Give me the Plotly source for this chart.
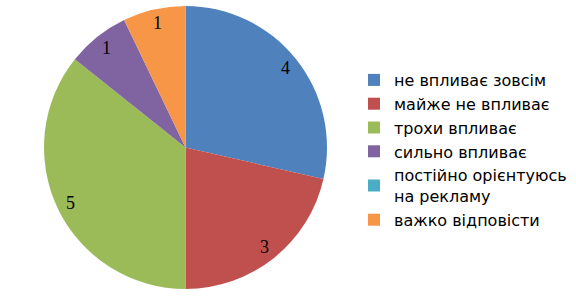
import math
import plotly.graph_objects as go

categories = ["не впливає зовсім", "майже не впливає", "трохи впливає",
              "сильно впливає", "постійно орієнтуюсь<br>на рекламу", "важко відповісти"]
values = [4, 3, 5, 1, 0, 1]
colors = ["#4F81BD", "#C0504D", "#9BBB59", "#8064A2", "#4BACC6", "#F79646"]

W, H = 576, 296
cx, cy, R = 185.5, 147.5, 141.5
label_frac = 0.9

fig = go.Figure(go.Pie(
    labels=categories, values=values, sort=False, direction="clockwise", rotation=0,
    marker=dict(colors=colors, line=dict(width=0)),
    textinfo="none", hoverinfo="label+value",
    domain=dict(x=[(cx - R) / W, (cx + R) / W], y=[1 - (cy + R) / H, 1 - (cy - R) / H]),
))

total = sum(values)
cum = 0
annotations = []
for v in values:
    if v > 0:
        mid = (cum + v / 2) / total * 2 * math.pi
        px = cx + label_frac * R * math.sin(mid)
        py = cy - label_frac * R * math.cos(mid)
        annotations.append(dict(x=px / W, y=1 - py / H, xref="paper", yref="paper",
                                xanchor="center", yanchor="middle",
                                text=str(v), showarrow=False,
                                font=dict(family="Liberation Serif", size=18, color="#000000")))
    cum += v

fig.update_layout(
    width=W, height=H, margin=dict(l=0, r=0, t=0, b=0, autoexpand=False),
    paper_bgcolor="white", plot_bgcolor="white",
    annotations=annotations,
    showlegend=True,
    legend=dict(x=354 / W, xanchor="left", y=1 - 150 / H, yanchor="middle",
                font=dict(family="DejaVu Sans", size=16, color="#000000"),
                traceorder="normal", itemwidth=30,
                bgcolor="rgba(0,0,0,0)"),
)

fig.write_html("out.html")
